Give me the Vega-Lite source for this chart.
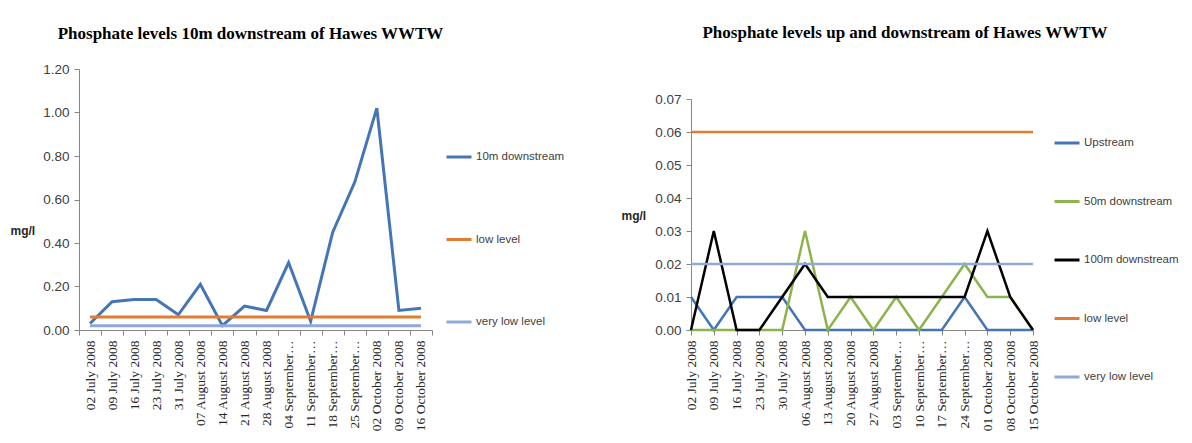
{
  "$schema": "https://vega.github.io/schema/vega-lite/v6.json",
  "padding": {"left": 10, "top": 24, "right": 5, "bottom": 0},
  "background": "white",
  "spacing": 56,
  "config": {
    "view": {"stroke": null},
    "font": "Liberation Sans",
    "axis": {"grid": false, "domainColor": "#868686", "tickColor": "#868686", "tickSize": 5, "labelColor": "#404040", "labelFont": "Liberation Sans", "labelFontSize": 13.5, "domainWidth": 1},
    "title": {"font": "Liberation Serif", "fontSize": 17, "fontWeight": "bold", "color": "#000000", "anchor": "middle"},
    "legend": {"labelFont": "Liberation Sans", "labelFontSize": 11.5, "labelColor": "#404040", "symbolType": "stroke", "symbolSize": 625, "symbolStrokeWidth": 3, "labelOffset": 3, "title": null}
  },
  "datasets": {
    "down10": [
      {"date": "2008-07-02", "series": "10m downstream", "value": 0.03},
      {"date": "2008-07-09", "series": "10m downstream", "value": 0.13},
      {"date": "2008-07-16", "series": "10m downstream", "value": 0.14},
      {"date": "2008-07-23", "series": "10m downstream", "value": 0.14},
      {"date": "2008-07-31", "series": "10m downstream", "value": 0.07},
      {"date": "2008-08-07", "series": "10m downstream", "value": 0.21},
      {"date": "2008-08-14", "series": "10m downstream", "value": 0.02},
      {"date": "2008-08-21", "series": "10m downstream", "value": 0.11},
      {"date": "2008-08-28", "series": "10m downstream", "value": 0.09},
      {"date": "2008-09-04", "series": "10m downstream", "value": 0.31},
      {"date": "2008-09-11", "series": "10m downstream", "value": 0.04},
      {"date": "2008-09-18", "series": "10m downstream", "value": 0.45},
      {"date": "2008-09-25", "series": "10m downstream", "value": 0.68},
      {"date": "2008-10-02", "series": "10m downstream", "value": 1.02},
      {"date": "2008-10-09", "series": "10m downstream", "value": 0.09},
      {"date": "2008-10-16", "series": "10m downstream", "value": 0.10},
      {"date": "2008-07-02", "series": "low level", "value": 0.06},
      {"date": "2008-07-09", "series": "low level", "value": 0.06},
      {"date": "2008-07-16", "series": "low level", "value": 0.06},
      {"date": "2008-07-23", "series": "low level", "value": 0.06},
      {"date": "2008-07-31", "series": "low level", "value": 0.06},
      {"date": "2008-08-07", "series": "low level", "value": 0.06},
      {"date": "2008-08-14", "series": "low level", "value": 0.06},
      {"date": "2008-08-21", "series": "low level", "value": 0.06},
      {"date": "2008-08-28", "series": "low level", "value": 0.06},
      {"date": "2008-09-04", "series": "low level", "value": 0.06},
      {"date": "2008-09-11", "series": "low level", "value": 0.06},
      {"date": "2008-09-18", "series": "low level", "value": 0.06},
      {"date": "2008-09-25", "series": "low level", "value": 0.06},
      {"date": "2008-10-02", "series": "low level", "value": 0.06},
      {"date": "2008-10-09", "series": "low level", "value": 0.06},
      {"date": "2008-10-16", "series": "low level", "value": 0.06},
      {"date": "2008-07-02", "series": "very low level", "value": 0.02},
      {"date": "2008-07-09", "series": "very low level", "value": 0.02},
      {"date": "2008-07-16", "series": "very low level", "value": 0.02},
      {"date": "2008-07-23", "series": "very low level", "value": 0.02},
      {"date": "2008-07-31", "series": "very low level", "value": 0.02},
      {"date": "2008-08-07", "series": "very low level", "value": 0.02},
      {"date": "2008-08-14", "series": "very low level", "value": 0.02},
      {"date": "2008-08-21", "series": "very low level", "value": 0.02},
      {"date": "2008-08-28", "series": "very low level", "value": 0.02},
      {"date": "2008-09-04", "series": "very low level", "value": 0.02},
      {"date": "2008-09-11", "series": "very low level", "value": 0.02},
      {"date": "2008-09-18", "series": "very low level", "value": 0.02},
      {"date": "2008-09-25", "series": "very low level", "value": 0.02},
      {"date": "2008-10-02", "series": "very low level", "value": 0.02},
      {"date": "2008-10-09", "series": "very low level", "value": 0.02},
      {"date": "2008-10-16", "series": "very low level", "value": 0.02}
    ],
    "updown": [
      {"date": "2008-07-02", "series": "Upstream", "value": 0.01},
      {"date": "2008-07-09", "series": "Upstream", "value": 0},
      {"date": "2008-07-16", "series": "Upstream", "value": 0.01},
      {"date": "2008-07-23", "series": "Upstream", "value": 0.01},
      {"date": "2008-07-30", "series": "Upstream", "value": 0.01},
      {"date": "2008-08-06", "series": "Upstream", "value": 0},
      {"date": "2008-08-13", "series": "Upstream", "value": 0},
      {"date": "2008-08-20", "series": "Upstream", "value": 0},
      {"date": "2008-08-27", "series": "Upstream", "value": 0},
      {"date": "2008-09-03", "series": "Upstream", "value": 0},
      {"date": "2008-09-10", "series": "Upstream", "value": 0},
      {"date": "2008-09-17", "series": "Upstream", "value": 0},
      {"date": "2008-09-24", "series": "Upstream", "value": 0.01},
      {"date": "2008-10-01", "series": "Upstream", "value": 0},
      {"date": "2008-10-08", "series": "Upstream", "value": 0},
      {"date": "2008-10-15", "series": "Upstream", "value": 0},
      {"date": "2008-07-02", "series": "50m downstream", "value": 0},
      {"date": "2008-07-09", "series": "50m downstream", "value": 0},
      {"date": "2008-07-16", "series": "50m downstream", "value": 0},
      {"date": "2008-07-23", "series": "50m downstream", "value": 0},
      {"date": "2008-07-30", "series": "50m downstream", "value": 0},
      {"date": "2008-08-06", "series": "50m downstream", "value": 0.03},
      {"date": "2008-08-13", "series": "50m downstream", "value": 0},
      {"date": "2008-08-20", "series": "50m downstream", "value": 0.01},
      {"date": "2008-08-27", "series": "50m downstream", "value": 0},
      {"date": "2008-09-03", "series": "50m downstream", "value": 0.01},
      {"date": "2008-09-10", "series": "50m downstream", "value": 0},
      {"date": "2008-09-17", "series": "50m downstream", "value": 0.01},
      {"date": "2008-09-24", "series": "50m downstream", "value": 0.02},
      {"date": "2008-10-01", "series": "50m downstream", "value": 0.01},
      {"date": "2008-10-08", "series": "50m downstream", "value": 0.01},
      {"date": "2008-10-15", "series": "50m downstream", "value": 0},
      {"date": "2008-07-02", "series": "100m downstream", "value": 0},
      {"date": "2008-07-09", "series": "100m downstream", "value": 0.03},
      {"date": "2008-07-16", "series": "100m downstream", "value": 0},
      {"date": "2008-07-23", "series": "100m downstream", "value": 0},
      {"date": "2008-07-30", "series": "100m downstream", "value": 0.01},
      {"date": "2008-08-06", "series": "100m downstream", "value": 0.02},
      {"date": "2008-08-13", "series": "100m downstream", "value": 0.01},
      {"date": "2008-08-20", "series": "100m downstream", "value": 0.01},
      {"date": "2008-08-27", "series": "100m downstream", "value": 0.01},
      {"date": "2008-09-03", "series": "100m downstream", "value": 0.01},
      {"date": "2008-09-10", "series": "100m downstream", "value": 0.01},
      {"date": "2008-09-17", "series": "100m downstream", "value": 0.01},
      {"date": "2008-09-24", "series": "100m downstream", "value": 0.01},
      {"date": "2008-10-01", "series": "100m downstream", "value": 0.03},
      {"date": "2008-10-08", "series": "100m downstream", "value": 0.01},
      {"date": "2008-10-15", "series": "100m downstream", "value": 0},
      {"date": "2008-07-02", "series": "low level", "value": 0.06},
      {"date": "2008-07-09", "series": "low level", "value": 0.06},
      {"date": "2008-07-16", "series": "low level", "value": 0.06},
      {"date": "2008-07-23", "series": "low level", "value": 0.06},
      {"date": "2008-07-30", "series": "low level", "value": 0.06},
      {"date": "2008-08-06", "series": "low level", "value": 0.06},
      {"date": "2008-08-13", "series": "low level", "value": 0.06},
      {"date": "2008-08-20", "series": "low level", "value": 0.06},
      {"date": "2008-08-27", "series": "low level", "value": 0.06},
      {"date": "2008-09-03", "series": "low level", "value": 0.06},
      {"date": "2008-09-10", "series": "low level", "value": 0.06},
      {"date": "2008-09-17", "series": "low level", "value": 0.06},
      {"date": "2008-09-24", "series": "low level", "value": 0.06},
      {"date": "2008-10-01", "series": "low level", "value": 0.06},
      {"date": "2008-10-08", "series": "low level", "value": 0.06},
      {"date": "2008-10-15", "series": "low level", "value": 0.06},
      {"date": "2008-07-02", "series": "very low level", "value": 0.02},
      {"date": "2008-07-09", "series": "very low level", "value": 0.02},
      {"date": "2008-07-16", "series": "very low level", "value": 0.02},
      {"date": "2008-07-23", "series": "very low level", "value": 0.02},
      {"date": "2008-07-30", "series": "very low level", "value": 0.02},
      {"date": "2008-08-06", "series": "very low level", "value": 0.02},
      {"date": "2008-08-13", "series": "very low level", "value": 0.02},
      {"date": "2008-08-20", "series": "very low level", "value": 0.02},
      {"date": "2008-08-27", "series": "very low level", "value": 0.02},
      {"date": "2008-09-03", "series": "very low level", "value": 0.02},
      {"date": "2008-09-10", "series": "very low level", "value": 0.02},
      {"date": "2008-09-17", "series": "very low level", "value": 0.02},
      {"date": "2008-09-24", "series": "very low level", "value": 0.02},
      {"date": "2008-10-01", "series": "very low level", "value": 0.02},
      {"date": "2008-10-08", "series": "very low level", "value": 0.02},
      {"date": "2008-10-15", "series": "very low level", "value": 0.02}
    ]
  },
  "resolve": {"scale": {"color": "independent", "x": "independent", "y": "independent"}, "legend": {"color": "independent"}},
  "hconcat": [
    {
      "title": {"text": "Phosphate levels 10m downstream of Hawes WWTW", "offset": 19, "dx": -5},
      "width": 353,
      "height": 261,
      "data": {"name": "down10"},
      "mark": {"type": "line", "strokeWidth": 3},
      "encoding": {
        "x": {
          "field": "date", "timeUnit": "utcyearmonthdate", "type": "ordinal", "bandPosition": 0.5,
          "scale": {"type": "band", "paddingInner": 0, "paddingOuter": 0},
          "axis": {"title": null, "format": "%d %B %Y", "labelAngle": -90, "labelFont": "Liberation Serif", "labelFontSize": 13.5, "labelColor": "#262626", "tickBand": "extent", "labelPadding": 5, "labelExpr": "length(datum.label) > 16 ? slice(datum.label, 0, 12) + '…' : datum.label"}
        },
        "y": {
          "field": "value", "type": "quantitative",
          "scale": {"domain": [0, 1.2], "nice": false},
          "axis": {"values": [0, 0.2, 0.4, 0.6, 0.8, 1.0, 1.2], "format": ".2f", "title": "mg/l", "titleAngle": 0, "titleX": -69, "titleY": 161, "titleAlign": "left", "titleBaseline": "middle", "titleFontWeight": "bold", "titleFontSize": 12, "titleColor": "#262626", "labelPadding": 5}
        },
        "color": {
          "field": "series", "type": "nominal",
          "scale": {"domain": ["10m downstream", "low level", "very low level"], "range": ["#4575b6", "#e37b33", "#8eaad6"]},
          "legend": {"orient": "none", "legendX": 366, "legendY": 74, "rowPadding": 62.5}
        }
      }
    },
    {
      "title": {"text": "Phosphate levels up and downstream of Hawes WWTW", "offset": 27, "dx": 43},
      "width": 342,
      "height": 261,
      "data": {"name": "updown"},
      "mark": {"type": "line", "strokeWidth": 2.5},
      "encoding": {
        "x": {
          "field": "date", "timeUnit": "utcyearmonthdate", "type": "ordinal",
          "scale": {"type": "point", "padding": 0},
          "axis": {"title": null, "format": "%d %B %Y", "labelAngle": -90, "labelFont": "Liberation Serif", "labelFontSize": 13.5, "labelColor": "#262626", "labelPadding": 5, "labelExpr": "length(datum.label) > 16 ? slice(datum.label, 0, 12) + '…' : datum.label"}
        },
        "y": {
          "field": "value", "type": "quantitative",
          "scale": {"domain": [0, 0.07], "nice": false, "range": [261, 30]},
          "axis": {"values": [0, 0.01, 0.02, 0.03, 0.04, 0.05, 0.06, 0.07], "format": ".2f", "title": "mg/l", "titleAngle": 0, "titleX": -70, "titleY": 146, "titleAlign": "left", "titleBaseline": "middle", "titleFontWeight": "bold", "titleFontSize": 12, "titleColor": "#262626", "labelPadding": 5}
        },
        "color": {
          "field": "series", "type": "nominal",
          "scale": {"domain": ["Upstream", "50m downstream", "100m downstream", "low level", "very low level"], "range": ["#4575b6", "#8db34c", "#000000", "#e37b33", "#8eaad6"]},
          "legend": {"orient": "none", "legendX": 362, "legendY": 60, "rowPadding": 38.5}
        }
      }
    }
  ]
}
